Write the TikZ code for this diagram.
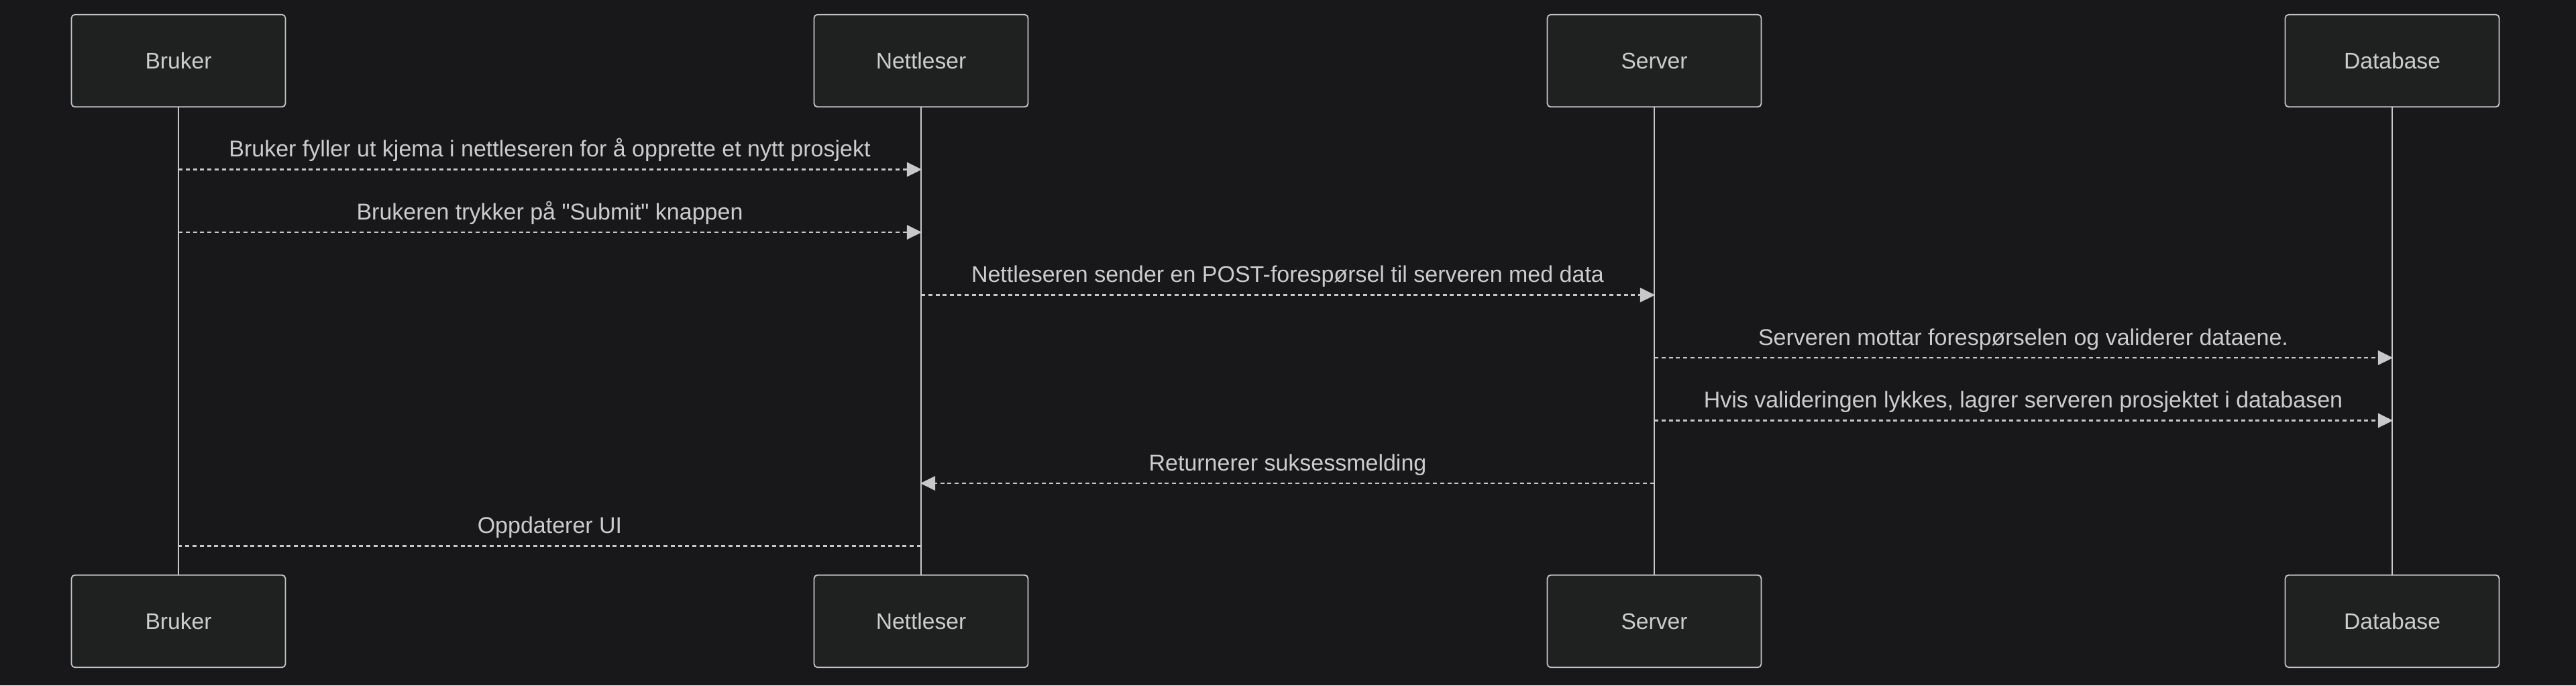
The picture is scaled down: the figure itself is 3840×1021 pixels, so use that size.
\documentclass[tikz,border=0pt]{standalone}
\usepackage{fontspec}
\setmainfont{Liberation Sans}[Ligatures=TeXOff]
\usetikzlibrary{arrows.meta}
\definecolor{bg}{HTML}{18181B}
\definecolor{actfill}{HTML}{1F2120}
\definecolor{actline}{HTML}{C8C8C8}
\definecolor{txt}{HTML}{CCCCCC}
\begin{document}
\begin{tikzpicture}[x=0.25pt,y=-0.25pt,
  actor/.style={draw=actline, fill=actfill, line width=0.45pt, rounded corners=1.3pt,
    minimum width=79.75pt, minimum height=34.4pt, inner sep=0pt, text=txt,
    text height=5.75pt, text depth=0pt, font=\fontsize{8.4}{10}\selectfont},
  life/.style={draw=actline, line width=0.6pt},
  msg/.style={draw=actline, line width=0.7pt, dash pattern=on 1.5pt off 1.2pt,
    -{Triangle[length=5.6pt,width=5.3pt]}, shorten >=-0.3pt},
  lbl/.style={text=txt, inner sep=0pt, anchor=base, font=\fontsize{8.5}{10}\selectfont}]
\fill[bg] (0,0) rectangle (3840,1021);
\useasboundingbox (0,0) rectangle (3840,1021);
% actors top
\node[actor] (bt) at (266,90.5) {Bruker};
\node[actor] (nt) at (1373,90.5) {Nettleser};
\node[actor] (st) at (2466,90.5) {Server};
\node[actor] (dt) at (3566,90.5) {Database};
% actors bottom
\node[actor] (bb) at (266,925.5) {Bruker};
\node[actor] (nb) at (1373,925.5) {Nettleser};
\node[actor] (sb) at (2466,925.5) {Server};
\node[actor] (db) at (3566,925.5) {Database};
% lifelines
\draw[life] (bt.south) -- (bb.north);
\draw[life] (nt.south) -- (nb.north);
\draw[life] (st.south) -- (sb.north);
\draw[life] (dt.south) -- (db.north);
% message rows
\coordinate (r1) at (0,252.5);
\coordinate (r2) at (0,346);
\coordinate (r3) at (0,439.5);
\coordinate (r4) at (0,533);
\coordinate (r5) at (0,626.5);
\coordinate (r6) at (0,720);
\coordinate (r7) at (0,813.5);
% messages
\draw[msg] (bt |- r1) -- (nt |- r1) node[lbl, midway, yshift=4.75pt] {Bruker fyller ut kjema i nettleseren for å opprette et nytt prosjekt};
\draw[msg] (bt |- r2) -- (nt |- r2) node[lbl, midway, yshift=4.75pt] {Brukeren trykker på "Submit" knappen};
\draw[msg] (nt |- r3) -- (st |- r3) node[lbl, midway, yshift=4.75pt] {Nettleseren sender en POST-forespørsel til serveren med data};
\draw[msg] (st |- r4) -- (dt |- r4) node[lbl, midway, yshift=4.75pt] {Serveren mottar forespørselen og validerer dataene.};
\draw[msg] (st |- r5) -- (dt |- r5) node[lbl, midway, yshift=4.75pt] {Hvis valideringen lykkes, lagrer serveren prosjektet i databasen};
\draw[msg] (st |- r6) -- (nt |- r6) node[lbl, midway, yshift=4.75pt] {Returnerer suksessmelding};
\draw[msg, -] (nt |- r7) -- (bt |- r7) node[lbl, midway, yshift=4.75pt] {Oppdaterer UI};
\end{tikzpicture}
\end{document}
